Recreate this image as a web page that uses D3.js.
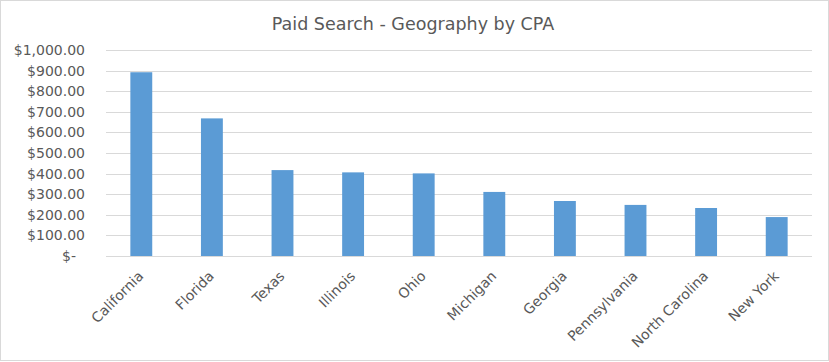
<!DOCTYPE html>
<html>
<head>
<meta charset="utf-8">
<script src="https://cdn.jsdelivr.net/npm/d3@7"></script>
<style>
  body { margin: 0; background: #fff; }
  svg { display: block; font-family: "DejaVu Sans", Verdana, sans-serif; }
</style>
</head>
<body>
<svg id="chart" width="829" height="362"></svg>
<script>
// datos
const estados = ["California", "Florida", "Texas", "Illinois", "Ohio", "Michigan", "Georgia", "Pennsylvania", "North Carolina", "New York"];
const cpa = [892, 668, 417, 406, 401, 311, 267, 248, 233, 189];
const ticksY = [0, 100, 200, 300, 400, 500, 600, 700, 800, 900, 1000];
const titulo = "Paid Search - Geography by CPA";

const svg = d3.select("#chart");
const width = 829, height = 362;
const margin = { top: 50, right: 17, bottom: 106, left: 106 };

// marco del grafico
svg.append("rect")
    .attr("x", 0.5).attr("y", 0.5)
    .attr("width", width - 1).attr("height", height - 2)
    .attr("fill", "#fff")
    .attr("stroke", "#d9d9d9");

svg.append("text")
    .attr("x", 413).attr("y", 30)
    .attr("text-anchor", "middle")
    .style("font-size", "17.5px")
    .style("fill", "#595959")
    .text(titulo);

const x = d3.scaleBand()
    .domain(estados)
    .range([margin.left, width - margin.right])
    .paddingInner(0.69)
    .paddingOuter(0.345);

const y = d3.scaleLinear()
    .domain([0, 1000])
    .range([height - margin.bottom, margin.top]);

// lineas de la cuadricula
svg.append("g")
    .selectAll("line")
    .data(ticksY)
    .enter()
    .append("line")
    .attr("x1", margin.left)
    .attr("x2", width - margin.right)
    .attr("y1", d => Math.round(y(d)) + 0.5)
    .attr("y2", d => Math.round(y(d)) + 0.5)
    .attr("stroke", "#d9d9d9")
    .attr("stroke-width", 1);

// eje Y
const formato = d3.format("$,.2f");
const ejeY = svg.append("g")
    .attr("transform", `translate(${margin.left - 21},0)`)
    .call(d3.axisLeft(y).tickValues(ticksY).tickSize(0).tickPadding(0)
        .tickFormat(d => d === 0 ? "$-" : formato(d)));
ejeY.attr("font-family", null).attr("font-size", null);
ejeY.select(".domain").remove();
ejeY.selectAll("text")
    .style("font-size", "14px")
    .style("fill", "#595959")
    .attr("dx", d => d === 0 ? -9 : 0);

// barras
svg.append("g")
    .selectAll("rect")
    .data(cpa)
    .enter()
    .append("rect")
    .attr("x", (d, i) => x(estados[i]))
    .attr("y", d => y(d))
    .attr("width", x.bandwidth())
    .attr("height", d => y(0) - y(d))
    .attr("fill", "#5b9bd5");

// eje X
const ejeX = svg.append("g")
    .attr("transform", `translate(0,${y(0)})`)
    .call(d3.axisBottom(x).tickSize(0).tickPadding(0));
ejeX.attr("font-family", null).attr("font-size", null);
ejeX.select(".domain").remove();
ejeX.selectAll("text")
    .style("font-size", "14px")
    .style("fill", "#595959")
    .style("text-anchor", "end")
    .attr("dy", null)
    .attr("y", 0)
    .attr("transform", "translate(3,21) rotate(-45)");
</script>
</body>
</html>
